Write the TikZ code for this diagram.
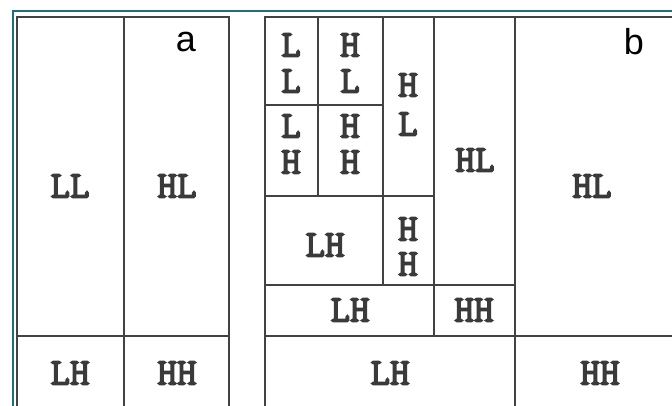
\documentclass[tikz,border=0pt]{standalone}
\usepackage{fontspec}
\setmainfont{Liberation Sans}
\newfontfamily\bandfont{Latin Modern Mono}[FakeBold=4]
\definecolor{gridline}{HTML}{424242}
\definecolor{labelgray}{HTML}{3A3A3A}
\definecolor{frameteal}{HTML}{1C6E80}
\tikzset{
  band/.style={font=\bandfont\fontsize{38}{38}\selectfont, text=labelgray, inner sep=0pt, anchor=center},
  panel/.style={font=\fontsize{36}{36}\selectfont, text=black, inner sep=0pt},
  gl/.style={draw=gridline, line width=2.7pt, line cap=rect}
}
\begin{document}
\begin{tikzpicture}[x=1pt,y=-1pt]
\useasboundingbox (0,0) rectangle (672,405);
\fill[white] (0,0) rectangle (672,405);
% teal frame
\draw[frameteal, line width=2pt] (13,410) -- (13,11) -- (675,11);
% panel a
\draw[gl] (17,410) -- (17,17) -- (229,17) -- (229,410);
\draw[gl] (124,17) -- (124,410);
\draw[gl] (17,336) -- (229,336);
% panel b
\draw[gl] (265,410) -- (265,17) -- (680,17);
\draw[gl] (515,17) -- (515,410);
\draw[gl] (265,336) -- (680,336);
\draw[gl] (265,285) -- (515,285);
\draw[gl] (434,17) -- (434,336);
\draw[gl] (265,196) -- (434,196);
\draw[gl] (383,17) -- (383,285);
\draw[gl] (265,105) -- (383,105);
\draw[gl] (318,17) -- (318,196);
% panel letters
\node[panel] (pa) at (186,42) {a};
\node[panel] (pb) at (634,42) {b};
% panel a labels
\node[band] (aLL) at (70,186) {LL};
\node[band] (aHL) at (177,186) {HL};
\node[band] (aLH) at (70,373) {LH};
\node[band] (aHH) at (177,373) {HH};
% panel b labels, level 3
\node[band] (l1) at (291,45) {L};
\node[band] (l2) at (291,81) {L};
\node[band] (h1) at (350,45) {H};
\node[band] (h2) at (350,81) {L};
\node[band] (l3) at (291,126) {L};
\node[band] (l4) at (291,162) {H};
\node[band] (h3) at (350,126) {H};
\node[band] (h4) at (350,162) {H};
% level 2 partial
\node[band] (hl1) at (408,85) {H};
\node[band] (hl2) at (408,124) {L};
\node[band] (hh1) at (408,229) {H};
\node[band] (hh2) at (408,264) {H};
\node[band] (lh3) at (325,245) {LH};
% level 2
\node[band] (hl3) at (475,160) {HL};
\node[band] (lh2) at (350,310) {LH};
\node[band] (hh3) at (474,310) {HH};
% level 1
\node[band] (hl4) at (592,186) {HL};
\node[band] (lh1) at (390,373) {LH};
\node[band] (hh4) at (600,373) {HH};
\end{tikzpicture}
\end{document}
